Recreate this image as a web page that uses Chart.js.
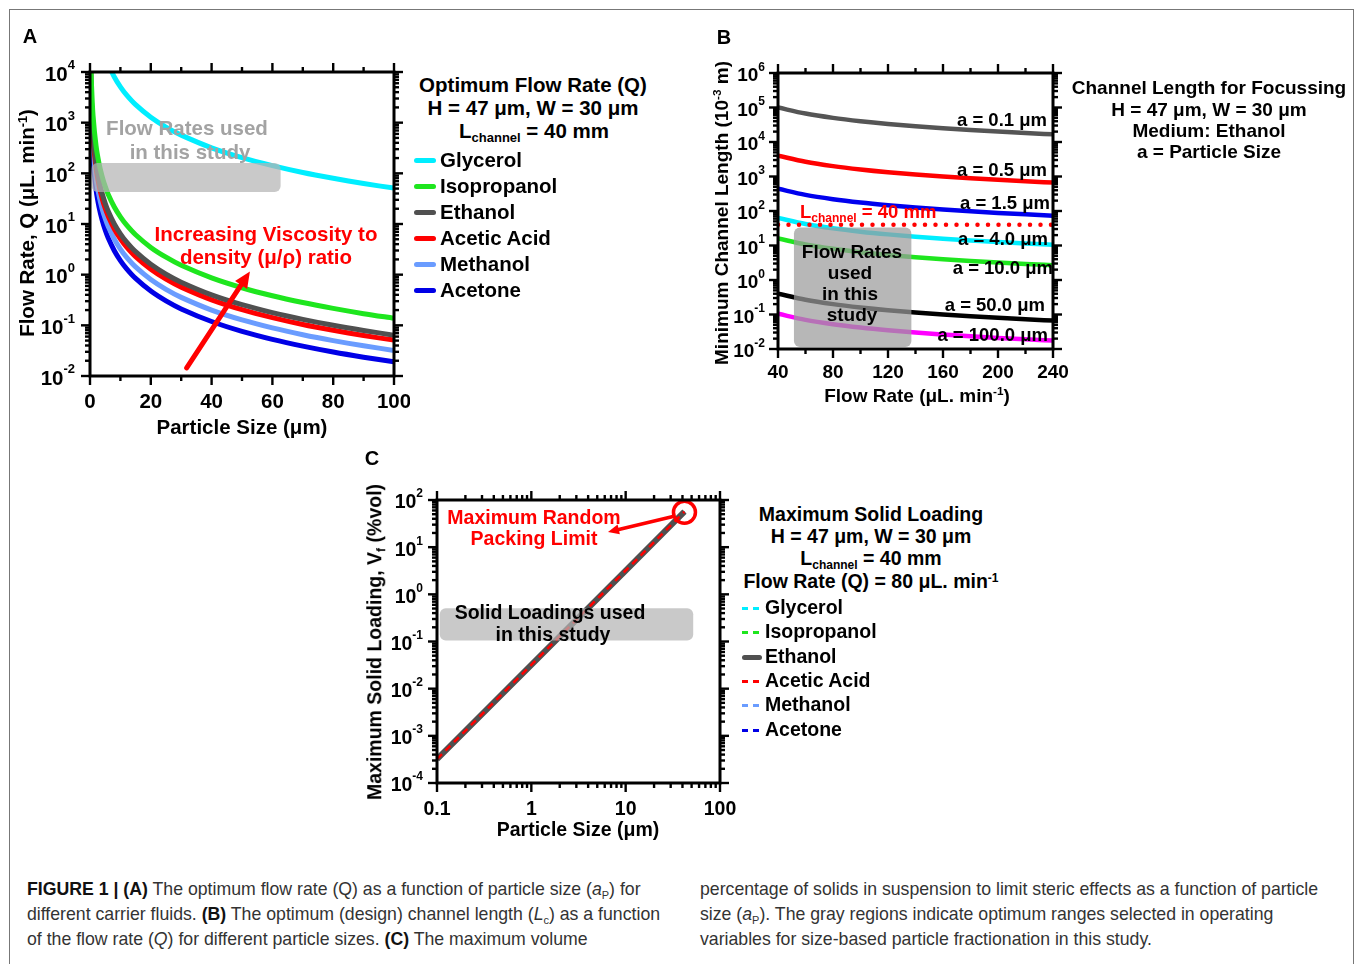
<!DOCTYPE html>
<html>
<head>
<meta charset="utf-8">
<script src="https://cdn.jsdelivr.net/npm/chart.js@4.4.0/dist/chart.umd.min.js"></script>
<style>
  body { margin:0; background:#fff; width:1358px; height:964px; overflow:hidden; position:relative;
         font-family:"Liberation Sans", Arial, sans-serif; }
  .frame { position:absolute; left:9px; top:9px; width:1343px; height:1100px; border:1.5px solid #777; }
  canvas { position:absolute; }
  .t { position:absolute; white-space:nowrap; font-weight:bold; line-height:1; color:#000;
       transform:translate(-50%,-50%); }
  .l { transform:translate(0,-50%); }
  .r { transform:translate(-100%,-50%); }
  .rot { transform:translate(-50%,-50%) rotate(-90deg); }
  .red { color:#f00; }
  sup { font-size:0.62em; vertical-align:0.55em; line-height:0; }
  sub { font-size:0.62em; vertical-align:-0.35em; line-height:0; }
  .sw { position:absolute; height:5px; border-radius:3px; }
  .dash { position:absolute; height:3px; width:6px; }
  .cap { position:absolute; font-family:"Liberation Sans Narrow","Liberation Sans",sans-serif; font-size:17.7px;
         line-height:25px; color:#333; white-space:nowrap; }
  .cap b { color:#111; }
</style>
</head>
<body>
<div class="frame"></div>
<canvas id="chartA" width="410" height="445" style="left:0;top:0"></canvas>
<canvas id="chartB" width="380" height="400" style="left:700px;top:20px"></canvas>
<canvas id="chartC" width="380" height="400" style="left:360px;top:450px"></canvas>

<!-- panel letters -->
<div class="t" style="left:30px;top:36px;font-size:20px">A</div>
<div class="t" style="left:724px;top:37px;font-size:20px">B</div>
<div class="t" style="left:372px;top:458px;font-size:20px">C</div>

<!-- panel A texts -->
<div class="t" style="left:242px;top:427px;font-size:20.5px">Particle Size (μm)</div>
<div class="t rot" style="left:27px;top:223px;font-size:20.5px">Flow Rate, Q (μL. min<sup>-1</sup>)</div>
<div class="t" style="left:187px;top:128px;font-size:20.5px;color:#a3a3a3">Flow Rates used</div>
<div class="t" style="left:190px;top:152px;font-size:20.5px;color:#a3a3a3">in this study</div>
<div class="t red" style="left:266px;top:234px;font-size:20.5px">Increasing Viscosity to</div>
<div class="t red" style="left:266px;top:257px;font-size:20.5px">density (μ/ρ) ratio</div>
<div class="t" style="left:533px;top:85px;font-size:20.5px">Optimum Flow Rate (Q)</div>
<div class="t" style="left:533px;top:108px;font-size:20.5px">H = 47 μm, W = 30 μm</div>
<div class="t" style="left:534px;top:131px;font-size:20.5px">L<sub style="font-size:13px">channel</sub> = 40 mm</div>
<div id="legA"></div>

<!-- panel B texts -->
<div class="t" style="left:917px;top:395px;font-size:19px">Flow Rate (μL. min<sup>-1</sup>)</div>
<div class="t rot" style="left:721px;top:213px;font-size:19px">Minimum Channel Length (10<sup>-3</sup> m)</div>
<div class="t" style="left:1209px;top:87px;font-size:19px">Channel Length for Focussing</div>
<div class="t" style="left:1209px;top:109px;font-size:19px">H = 47 μm, W = 30 μm</div>
<div class="t" style="left:1209px;top:130px;font-size:19px">Medium: Ethanol</div>
<div class="t" style="left:1209px;top:151px;font-size:19px">a = Particle Size</div>
<div class="t" style="left:852px;top:251px;font-size:19px">Flow Rates</div>
<div class="t" style="left:850px;top:272px;font-size:19px">used</div>
<div class="t" style="left:850px;top:293px;font-size:19px">in this</div>
<div class="t" style="left:852px;top:314px;font-size:19px">study</div>
<div class="t l red" style="left:800px;top:212px;font-size:18.5px">L<sub style="font-size:12px">channel</sub> = 40 mm</div>
<div class="t r" style="left:1047px;top:120px;font-size:18.5px">a = 0.1 μm</div>
<div class="t r" style="left:1047px;top:170px;font-size:18.5px">a = 0.5 μm</div>
<div class="t r" style="left:1050px;top:203px;font-size:18.5px">a = 1.5 μm</div>
<div class="t r" style="left:1048px;top:239px;font-size:18.5px">a = 4.0 μm</div>
<div class="t r" style="left:1053px;top:268px;font-size:18.5px">a = 10.0 μm</div>
<div class="t r" style="left:1045px;top:305px;font-size:18.5px">a = 50.0 μm</div>
<div class="t r" style="left:1048px;top:335px;font-size:18.5px">a = 100.0 μm</div>

<!-- panel C texts -->
<div class="t" style="left:578px;top:830px;font-size:19.5px">Particle Size (μm)</div>
<div class="t rot" style="left:375px;top:642px;font-size:19.5px">Maximum Solid Loading, V<sub>f</sub> (%vol)</div>
<div class="t red" style="left:534px;top:518px;font-size:19.5px">Maximum Random</div>
<div class="t red" style="left:534px;top:539px;font-size:19.5px">Packing Limit</div>
<div class="t" style="left:550px;top:613px;font-size:19.5px">Solid Loadings used</div>
<div class="t" style="left:553px;top:635px;font-size:19.5px">in this study</div>
<div class="t" style="left:871px;top:515px;font-size:19.5px">Maximum Solid Loading</div>
<div class="t" style="left:871px;top:537px;font-size:19.5px">H = 47 μm, W = 30 μm</div>
<div class="t" style="left:871px;top:559px;font-size:19.5px">L<sub style="font-size:12px">channel</sub> = 40 mm</div>
<div class="t" style="left:871px;top:582px;font-size:19.5px">Flow Rate (Q) = 80 μL. min<sup>-1</sup></div>
<div id="legC"></div>

<!-- caption -->
<div class="cap" style="left:27px;top:877px">
<b>FIGURE 1 | (A)</b> The optimum flow rate (Q) as a function of particle size (<i>a</i><sub>P</sub>) for<br>
different carrier fluids. <b>(B)</b> The optimum (design) channel length (<i>L</i><sub>c</sub>) as a function<br>
of the flow rate (<i>Q</i>) for different particle sizes. <b>(C)</b> The maximum volume
</div>
<div class="cap" style="left:700px;top:877px">
percentage of solids in suspension to limit steric effects as a function of particle<br>
size (<i>a</i><sub>P</sub>). The gray regions indicate optimum ranges selected in operating<br>
variables for size-based particle fractionation in this study.
</div>

<script>
// ---------- data ----------
// panel A : flow rate Q (uL/min) vs particle size (um)
const fluids = ['Glycerol', 'Isopropanol', 'Ethanol', 'Acetic Acid', 'Methanol', 'Acetone']
const fluidColors = ['#00eeff', '#1ee61e', '#505050', '#ff0000', '#6a9cff', '#0000e6']
const sizeA = [0.1, 0.2, 0.3, 0.5, 1, 2, 3, 4, 5, 6, 8, 10, 12, 15, 20, 25, 30, 40, 50, 60, 70, 80, 90, 100]
const glycerolQ    = [5.1e7, 1.28e7, 5.67e6, 2.04e6, 5.1e5, 1.28e5, 56700, 31900, 20400, 14200, 7970, 5100, 3540, 2270, 1280, 816, 567, 319, 204, 142, 104, 80, 63, 51]
const isopropanolQ = [138000, 34500, 15300, 5520, 1380, 345, 153, 86.3, 55.2, 38.3, 21.6, 13.8, 9.58, 6.13, 3.45, 2.21, 1.53, 0.863, 0.552, 0.383, 0.282, 0.216, 0.170, 0.138]
const ethanolQ     = [64000, 16000, 7110, 2560, 640, 160, 71.1, 40, 25.6, 17.8, 10, 6.4, 4.44, 2.84, 1.6, 1.02, 0.711, 0.4, 0.256, 0.178, 0.131, 0.1, 0.079, 0.064]
const aceticQ      = [51000, 12750, 5670, 2040, 510, 128, 56.7, 31.9, 20.4, 14.2, 7.97, 5.1, 3.54, 2.27, 1.28, 0.816, 0.567, 0.319, 0.204, 0.142, 0.104, 0.080, 0.063, 0.051]
const methanolQ    = [32000, 8000, 3560, 1280, 320, 80, 35.6, 20, 12.8, 8.89, 5, 3.2, 2.22, 1.42, 0.8, 0.512, 0.356, 0.2, 0.128, 0.0889, 0.0653, 0.05, 0.0395, 0.032]
const acetoneQ     = [19000, 4750, 2110, 760, 190, 47.5, 21.1, 11.9, 7.6, 5.28, 2.97, 1.9, 1.32, 0.844, 0.475, 0.304, 0.211, 0.119, 0.076, 0.0528, 0.0388, 0.0297, 0.0235, 0.019]
const xTicksA = [0, 20, 40, 60, 80, 100]
const yExpA = [-2, -1, 0, 1, 2, 3, 4]

// panel B : min channel length (mm) vs flow rate (uL/min)
const flowB = [40, 60, 80, 100, 120, 140, 160, 180, 200, 220, 240]
const sizesB = ['0.1', '0.5', '1.5', '4.0', '10.0', '50.0', '100.0']
const sizeColorsB = ['#555555', '#ff0000', '#0000ee', '#00eeff', '#1ee61e', '#000000', '#ff00ff']
const len01  = [100000, 66700, 50000, 40000, 33300, 28600, 25000, 22200, 20000, 18200, 16700]
const len05  = [4000, 2670, 2000, 1600, 1330, 1140, 1000, 889, 800, 727, 667]
const len15  = [440, 293, 220, 176, 147, 126, 110, 97.8, 88, 80, 73.3]
const len40  = [63, 42, 31.5, 25.2, 21, 18, 15.8, 14, 12.6, 11.5, 10.5]
const len100 = [16, 10.7, 8, 6.4, 5.33, 4.57, 4, 3.56, 3.2, 2.91, 2.67]
const len500 = [0.4, 0.267, 0.2, 0.16, 0.133, 0.114, 0.1, 0.0889, 0.08, 0.0727, 0.0667]
const len1000 = [0.105, 0.07, 0.0525, 0.042, 0.035, 0.03, 0.0263, 0.0233, 0.021, 0.0191, 0.0175]
const lChannel = [40, 40]
const xTicksB = [40, 80, 120, 160, 200, 240]
const yExpB = [-2, -1, 0, 1, 2, 3, 4, 5, 6]

// panel C : max solid loading (%vol) vs particle size (um)
const sizeC = [0.1, 1, 10, 42]
const solidC = [3.2e-4, 0.032, 3.2, 56.4]
const packingLimit = [42, 55]
const xTicksC = [0.1, 1, 10, 100]
const yExpC = [-4, -3, -2, -1, 0, 1, 2]

// ---------- helpers ----------
const pts = (xs, ys) => xs.map((v, i) => ({ x: v, y: ys[i] }))
const logMinor = (lo, hi) => {
  let out = []
  for (let d = lo; d < hi; d++) for (let k = 2; k <= 9; k++) out.push(k * Math.pow(10, d))
  return out
}
const FONT = '"Liberation Sans", Arial, sans-serif'

function drawPow(ctx, exp, xr, y, fs) {
  const big = 'bold ' + fs + 'px ' + FONT
  const small = 'bold ' + Math.round(fs * 0.62) + 'px ' + FONT
  ctx.font = small
  const ew = ctx.measureText(String(exp)).width
  ctx.font = big
  const bw = ctx.measureText('10').width
  ctx.textAlign = 'left'
  ctx.textBaseline = 'middle'
  ctx.fillText('10', xr - ew - bw, y + 3)
  ctx.font = small
  ctx.fillText(String(exp), xr - ew, y - fs * 0.3)
}

function arrow(ctx, x1, y1, x2, y2, w, head) {
  const ang = Math.atan2(y2 - y1, x2 - x1)
  const bx = x2 - head * Math.cos(ang), by = y2 - head * Math.sin(ang)
  ctx.strokeStyle = '#ff0000'
  ctx.fillStyle = '#ff0000'
  ctx.lineWidth = w
  ctx.lineCap = 'round'
  ctx.beginPath(); ctx.moveTo(x1, y1); ctx.lineTo(bx, by); ctx.stroke()
  ctx.beginPath()
  ctx.moveTo(x2, y2)
  ctx.lineTo(bx + head * 0.45 * Math.sin(ang), by - head * 0.45 * Math.cos(ang))
  ctx.lineTo(bx - head * 0.45 * Math.sin(ang), by + head * 0.45 * Math.cos(ang))
  ctx.closePath(); ctx.fill()
}

// draws gray box, arrow, frame, ticks on 4 sides and tick labels
function decoPlugin(o) {
  return {
    id: 'deco',
    afterDatasetsDraw(chart) {
      const ctx = chart.ctx, a = chart.chartArea
      const x = chart.scales.x, y = chart.scales.y
      ctx.save()
      if (o.box) {
        const b = o.box
        const x0 = x.getPixelForValue(b.x0), x1 = x.getPixelForValue(b.x1)
        const y0 = y.getPixelForValue(b.y1), y1 = y.getPixelForValue(b.y0)
        ctx.fillStyle = b.color
        ctx.beginPath()
        ctx.roundRect(x0, y0, x1 - x0, y1 - y0, 6)
        ctx.fill()
      }
      if (o.arrow) {
        const r = o.arrow
        arrow(ctx, x.getPixelForValue(r.x0), y.getPixelForValue(r.y0),
              x.getPixelForValue(r.x1), y.getPixelForValue(r.y1), r.w, r.head)
      }
      ctx.strokeStyle = '#000'
      ctx.lineCap = 'butt'
      ctx.lineWidth = 3
      ctx.strokeRect(a.left, a.top, a.right - a.left, a.bottom - a.top)
      ctx.lineWidth = 2.4
      const seg = (x1, y1, x2, y2) => { ctx.beginPath(); ctx.moveTo(x1, y1); ctx.lineTo(x2, y2); ctx.stroke() }
      const xt = (v, len) => { const p = x.getPixelForValue(v); seg(p, a.bottom, p, a.bottom + len); seg(p, a.top, p, a.top - len) }
      const yt = (v, len) => { const p = y.getPixelForValue(v); seg(a.left, p, a.left - len, p); seg(a.right, p, a.right + len, p) }
      o.xMajor.forEach(v => xt(v, 9))
      o.xMinor.forEach(v => xt(v, 5))
      o.yExp.forEach(e => yt(Math.pow(10, e), 9))
      o.yMinor.forEach(v => yt(v, 5))
      // labels
      ctx.fillStyle = '#000'
      ctx.font = 'bold ' + o.fs + 'px ' + FONT
      ctx.textAlign = 'center'
      ctx.textBaseline = 'middle'
      o.xMajor.forEach(v => ctx.fillText(String(v), x.getPixelForValue(v), a.bottom + o.xOff))
      o.yExp.forEach(e => drawPow(ctx, e, a.left - o.yOff, y.getPixelForValue(Math.pow(10, e)), o.fs))
      ctx.restore()
    }
  }
}

function opts(pad, xs, ys) {
  return {
    responsive: false,
    animation: false,
    layout: { padding: pad },
    plugins: { legend: { display: false }, tooltip: { enabled: false } },
    elements: { point: { radius: 0 }, line: { borderCapStyle: 'butt' } },
    scales: { x: Object.assign({ display: false }, xs), y: Object.assign({ display: false }, ys) }
  }
}

// ---------- panel A ----------
const seriesA = [glycerolQ, isopropanolQ, ethanolQ, aceticQ, methanolQ, acetoneQ]
new Chart(document.getElementById('chartA'), {
  type: 'line',
  data: {
    datasets: seriesA.map((s, i) => ({
      label: fluids[i], data: pts(sizeA, s), borderColor: fluidColors[i], borderWidth: 5,
      tension: 0.3, fill: false
    }))
  },
  options: opts({ left: 90, top: 72, right: 16, bottom: 69 },
    { type: 'linear', min: 0, max: 100 },
    { type: 'logarithmic', min: 0.01, max: 10000 }),
  plugins: [decoPlugin({
    xMajor: xTicksA, xMinor: [10, 30, 50, 70, 90], yExp: yExpA, yMinor: logMinor(-2, 4),
    fs: 20.5, xOff: 26, yOff: 15,
    box: { x0: 0.5, x1: 62.7, y0: 43, y1: 160, color: 'rgba(180,180,180,0.72)' },
    arrow: { x0: 31.8, y0: 0.0145, x1: 52.6, y1: 1.15, w: 5, head: 16 }
  })]
})

// ---------- panel B ----------
const seriesB = [len01, len05, len15, len40, len100, len500, len1000]
const dsB = seriesB.map((s, i) => ({
  label: 'a = ' + sizesB[i] + ' μm', data: pts(flowB, s), borderColor: sizeColorsB[i], borderWidth: 4.5,
  cubicInterpolationMode: 'monotone', fill: false
}))
dsB.unshift({
  label: 'L channel', data: pts([40, 240], lChannel), borderColor: '#ff0000', borderWidth: 4.5,
  borderDash: [0, 10.5], borderCapStyle: 'round', fill: false
})
new Chart(document.getElementById('chartB'), {
  type: 'line',
  data: { datasets: dsB },
  options: opts({ left: 78, top: 53, right: 27, bottom: 71 },
    { type: 'linear', min: 40, max: 240 },
    { type: 'logarithmic', min: 0.01, max: 1e6 }),
  plugins: [decoPlugin({
    xMajor: xTicksB, xMinor: [60, 100, 140, 180, 220], yExp: yExpB, yMinor: logMinor(-2, 6),
    fs: 19, xOff: 24, yOff: 13,
    box: { x0: 51.6, x1: 137, y0: 0.0115, y1: 33, color: 'rgba(155,155,155,0.72)' }
  })]
})

// ---------- panel C ----------
const order = [3, 2, 0, 1, 4, 5] // acetic on top, ethanol below it
const dsC = [{
  label: 'Maximum Random Packing Limit', data: [{ x: packingLimit[0], y: packingLimit[1] }],
  showLine: false, pointRadius: 11, pointBorderWidth: 3.5, pointBorderColor: '#ff0000',
  pointBackgroundColor: 'rgba(0,0,0,0)'
}]
order.forEach(i => dsC.push({
  label: fluids[i], data: pts(sizeC, solidC), borderColor: fluidColors[i],
  borderWidth: i === 2 ? 6 : 2.5, borderDash: i === 2 ? [] : [7, 5], fill: false
}))
new Chart(document.getElementById('chartC'), {
  type: 'line',
  data: { datasets: dsC },
  options: opts({ left: 77, top: 50, right: 20, bottom: 67 },
    { type: 'logarithmic', min: 0.1, max: 100 },
    { type: 'logarithmic', min: 1e-4, max: 100 }),
  plugins: [decoPlugin({
    xMajor: xTicksC, xMinor: logMinor(-1, 2), yExp: yExpC, yMinor: logMinor(-4, 2),
    fs: 19.5, xOff: 27, yOff: 14,
    box: { x0: 0.107, x1: 52, y0: 0.105, y1: 0.51, color: 'rgba(180,180,180,0.72)' },
    arrow: { x0: 31, y0: 44, x1: 6.5, y1: 21, w: 3.5, head: 11 }
  })]
})

// ---------- legends ----------
const legA = document.getElementById('legA')
const legAy = [160, 186, 212, 238, 264, 290]
fluids.forEach((f, i) => {
  legA.insertAdjacentHTML('beforeend',
    '<div class="sw" style="left:414px;top:' + (legAy[i] - 2.5) + 'px;width:22px;background:' + fluidColors[i] + '"></div>' +
    '<div class="t l" style="left:440px;top:' + legAy[i] + 'px;font-size:20.5px">' + f + '</div>')
})
const legC = document.getElementById('legC')
const legCy = [608, 632, 657, 681, 705, 730]
fluids.forEach((f, i) => {
  let sw
  if (i === 2) {
    sw = '<div class="sw" style="left:742px;top:' + (legCy[i] - 2.5) + 'px;width:20px;background:' + fluidColors[i] + '"></div>'
  } else {
    sw = '<div class="dash" style="left:742px;top:' + (legCy[i] - 1.5) + 'px;background:' + fluidColors[i] + '"></div>' +
         '<div class="dash" style="left:753px;top:' + (legCy[i] - 1.5) + 'px;background:' + fluidColors[i] + '"></div>'
  }
  legC.insertAdjacentHTML('beforeend', sw +
    '<div class="t l" style="left:765px;top:' + legCy[i] + 'px;font-size:19.5px">' + f + '</div>')
})
</script>
</body>
</html>
